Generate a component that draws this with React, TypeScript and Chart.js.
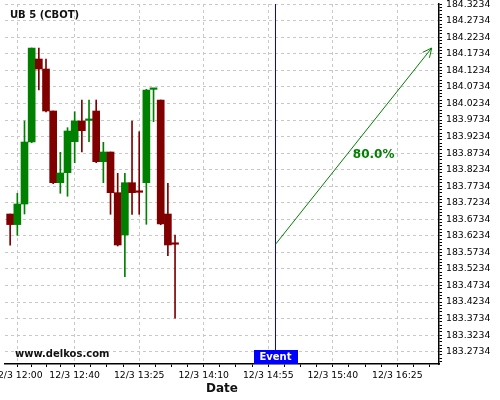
import React, { useEffect, useRef } from "react";
import { Chart, registerables } from "chart.js";

Chart.register(...registerables);

const TITLE = "UB 5 (CBOT)";
const WATERMARK = "www.delkos.com";
const X_TITLE = "Date";
const EVENT_LABEL = "Event";
const PROB_LABEL = "80.0%";

// candle times: minutes after 12/3 12:00 (5-minute candles, 11:55 .. 13:50)
const times = [-5, 0, 5, 10, 15, 20, 25, 30, 35, 40, 45, 50, 55, 60, 65, 70, 75, 80, 85, 90, 95, 100, 105, 110];
const opens = [
  183.6894, 183.6574, 183.7196, 183.9069, 184.1577, 184.1275, 184.0006, 183.784,
  183.8142, 183.908, 183.9704, 183.9722, 184.0006, 183.8474, 183.8767, 183.7538,
  183.626, 183.784, 183.7553, 183.784, 184.066, 184.0338, 183.6894, 183.5982,
];
const highs = [
  183.6894, 183.752, 183.9704, 184.1909, 184.1909, 184.1577, 184.0006, 183.8758,
  183.9502, 183.9985, 184.0338, 184.0338, 184.0338, 183.906, 183.8767, 183.8124,
  183.8124, 183.9704, 183.9381, 184.0662, 184.0662, 184.0338, 183.782, 183.626,
];
const lows = [
  183.5949, 183.625, 183.6894, 183.9048, 184.064, 183.9976, 183.781, 183.752,
  183.743, 183.8444, 183.8767, 183.9078, 183.8444, 183.784, 183.6885, 183.5927,
  183.4999, 183.6885, 183.6885, 183.6583, 183.9683, 183.657, 183.5634, 183.3743,
];
const closes = [
  183.6574, 183.7196, 183.9069, 184.1909, 184.1275, 184.0006, 183.784, 183.8133,
  183.9402, 183.9704, 183.9411, 183.9725, 183.8474, 183.8767, 183.7538, 183.5958,
  183.784, 183.7538, 183.755, 184.064, 184.0662, 183.6592, 183.5958, 183.5979,
];

const xTickValues = [0, 40, 85, 130, 175, 220, 265];
const xTickLabels = ["12/3 12:00", "12/3 12:40", "12/3 13:25", "12/3 14:10", "12/3 14:55", "12/3 15:40", "12/3 16:25"];
const yTickValues = [
  183.2734, 183.3234, 183.3734, 183.4234, 183.4734, 183.5234, 183.5734, 183.6234,
  183.6734, 183.7234, 183.7734, 183.8234, 183.8734, 183.9234, 183.9734, 184.0234,
  184.0734, 184.1234, 184.1734, 184.2234, 184.2734, 184.3234,
];

const X_MIN = -8.6;
const X_MAX = 294.1;
const Y_MIN = 183.2362;
const Y_MAX = 184.3239;

const eventTime = 180;
const arrowEndTime = 289;

const GREEN = "#008000";
const RED = "#800000";
const GRID = "#c8c8c8";
const FONT = '"DejaVu Sans", sans-serif';

const candleColor = (i: number) => (closes[i] >= opens[i] ? GREEN : RED);

const buildXTicks = () => {
  const out: any[] = [];
  const vals = xTickValues;
  for (let i = 0; i < vals.length; i++) {
    out.push({ value: vals[i], mj: true });
    const next = i < vals.length - 1 ? vals[i + 1] : vals[i] + (vals[i] - vals[i - 1]);
    const step = (next - vals[i]) / 4;
    for (let k = 1; k < 4; k++) {
      const v = vals[i] + k * step;
      if (v <= X_MAX) out.push({ value: v, mj: false });
    }
    if (i === 0) {
      const pstep = (vals[1] - vals[0]) / 4;
      for (let k = 1; k < 4; k++) {
        const v = vals[0] - k * pstep;
        if (v >= X_MIN) out.push({ value: v, mj: false });
      }
    }
  }
  return out.sort((a, b) => a.value - b.value);
};

const buildYTicks = () => {
  const out: any[] = [];
  const step = (yTickValues[1] - yTickValues[0]) / 5;
  for (let k = 1; k < 5; k++) {
    const v = yTickValues[0] - k * step;
    if (v >= Y_MIN) out.push({ value: v, mj: false });
  }
  for (let i = 0; i < yTickValues.length; i++) {
    out.push({ value: yTickValues[i], mj: true });
    if (i < yTickValues.length - 1) {
      for (let k = 1; k < 5; k++) out.push({ value: yTickValues[i] + k * step, mj: false });
    }
  }
  return out.sort((a, b) => a.value - b.value);
};

const overlayPlugin = {
  id: "overlay",
  afterDatasetsDraw(chart: any) {
    const { ctx, chartArea, scales } = chart;
    const x = scales.x;
    const y = scales.y;
    ctx.save();
    // event marker
    const ex = Math.round(x.getPixelForValue(eventTime)) + 0.5;
    ctx.font = `bold 10px ${FONT}`;
    const tw = ctx.measureText(EVENT_LABEL).width;
    const bw = Math.round(tw + 12);
    const bh = 14;
    const bx = Math.round(ex - bw / 2);
    const by = chartArea.bottom - bh;
    ctx.strokeStyle = "#0000ff";
    ctx.lineWidth = 1;
    ctx.beginPath();
    ctx.moveTo(ex, chartArea.top);
    ctx.lineTo(ex, by);
    ctx.stroke();
    ctx.fillStyle = "#0000ff";
    ctx.fillRect(bx, by, bw, bh);
    ctx.fillStyle = "#ffffff";
    ctx.textAlign = "center";
    ctx.textBaseline = "middle";
    ctx.fillText(EVENT_LABEL, ex, by + bh / 2 + 0.5);

    // arrow
    const x1 = ex;
    const y1 = y.getPixelForValue(closes[closes.length - 1]);
    const x2 = x.getPixelForValue(arrowEndTime);
    const y2 = y.getPixelForValue(Math.max(...highs));
    ctx.strokeStyle = GREEN;
    ctx.lineWidth = 1;
    ctx.beginPath();
    ctx.moveTo(x1, y1);
    ctx.lineTo(x2, y2);
    const ang = Math.atan2(y2 - y1, x2 - x1);
    const hl = 10;
    const ha = 0.45;
    ctx.moveTo(x2, y2);
    ctx.lineTo(x2 - hl * Math.cos(ang - ha), y2 - hl * Math.sin(ang - ha));
    ctx.moveTo(x2, y2);
    ctx.lineTo(x2 - hl * Math.cos(ang + ha), y2 - hl * Math.sin(ang + ha));
    ctx.stroke();

    ctx.fillStyle = GREEN;
    ctx.font = `bold 12px ${FONT}`;
    ctx.textAlign = "center";
    ctx.textBaseline = "middle";
    ctx.fillText(PROB_LABEL, (x1 + x2) / 2 + 20, (y1 + y2) / 2 + 8.5);
    ctx.restore();
  },
  afterDraw(chart: any) {
    const { ctx, chartArea } = chart;
    ctx.save();
    ctx.fillStyle = "#111";
    ctx.textAlign = "left";
    ctx.textBaseline = "middle";
    ctx.font = `bold 10px ${FONT}`;
    ctx.fillText(TITLE, chartArea.left + 5, chartArea.top + 11.5);
    ctx.fillText(WATERMARK, chartArea.left + 10, chartArea.bottom - 10);
    ctx.textAlign = "center";
    ctx.font = `bold 12px ${FONT}`;
    ctx.fillText(X_TITLE, (chartArea.left + chartArea.right) / 2, chartArea.bottom + 25);
    ctx.restore();
  },
};

export default function App() {
  const ref = useRef<HTMLCanvasElement | null>(null);
  useEffect(() => {
    if (!ref.current) return;
    const chart = new Chart(ref.current, {
      type: "bar",
      data: {
        datasets: [
          {
            label: "wicks",
            data: times.map((t, i) => ({ x: t, y: [lows[i], highs[i]] })) as any,
            backgroundColor: times.map((_, i) => candleColor(i)),
            barThickness: 1,
            grouped: false,
            order: 2,
          } as any,
          {
            label: "bodies",
            data: times.map((t, i) => ({ x: t, y: [opens[i], closes[i]] })) as any,
            backgroundColor: times.map((_, i) => candleColor(i)),
            barThickness: 7,
            minBarLength: 1.5,
            grouped: false,
            order: 1,
          } as any,
        ],
      },
      options: {
        animation: false,
        responsive: false,
        devicePixelRatio: 1,
        layout: { padding: { left: 5, top: 4, right: 0, bottom: 0 } },
        plugins: { legend: { display: false }, tooltip: { enabled: false }, title: { display: false } },
        scales: {
          x: {
            type: "linear",
            position: "bottom",
            min: X_MIN,
            max: X_MAX,
            offset: false,
            afterBuildTicks: (scale: any) => {
              scale.ticks = buildXTicks();
            },
            afterFit: (scale: any) => {
              scale.height = 36;
              scale.paddingLeft = 0;
              scale.paddingRight = 0;
            },
            ticks: {
              autoSkip: false,
              maxRotation: 0,
              minRotation: 0,
              padding: 3,
              color: "#000",
              font: { family: FONT, size: 9.3 },
              callback: (v: any) => {
                const idx = xTickValues.findIndex((t) => Math.abs(t - v) < 1e-6);
                return idx >= 0 ? xTickLabels[idx] : "";
              },
            },
            grid: {
              offset: false,
              drawTicks: true,
              tickLength: 3,
              tickColor: "#000",
              color: (c: any) => (c.tick && c.tick.mj ? GRID : "rgba(0,0,0,0)"),
            },
            border: { display: true, color: "#000", width: 1.5, dash: [3, 3] },
          } as any,
          y: {
            type: "linear",
            position: "right",
            min: Y_MIN,
            max: Y_MAX,
            beginAtZero: false,
            afterBuildTicks: (scale: any) => {
              scale.ticks = buildYTicks();
            },
            afterFit: (scale: any) => {
              scale.width = 61;
              scale.paddingTop = 0;
              scale.paddingBottom = 0;
            },
            ticks: {
              autoSkip: false,
              padding: 4,
              color: "#000",
              font: { family: FONT, size: 9.3 },
              callback: (v: any) => {
                const idx = yTickValues.findIndex((t) => Math.abs(t - v) < 1e-7);
                return idx >= 0 ? yTickValues[idx].toFixed(4) : "";
              },
            },
            grid: {
              drawTicks: true,
              tickLength: 3,
              tickColor: "#000",
              color: (c: any) => (c.tick && c.tick.mj ? GRID : "rgba(0,0,0,0)"),
            },
            border: { display: true, color: "#000", width: 1.5, dash: [3, 3] },
          } as any,
        },
      } as any,
      plugins: [overlayPlugin],
    });
    return () => chart.destroy();
  }, []);
  return (
    <div style={{ position: "absolute", left: 0, top: 0, width: 500, height: 400, background: "#fff" }}>
      <canvas ref={ref} width={500} height={400} style={{ display: "block" }} />
    </div>
  );
}
